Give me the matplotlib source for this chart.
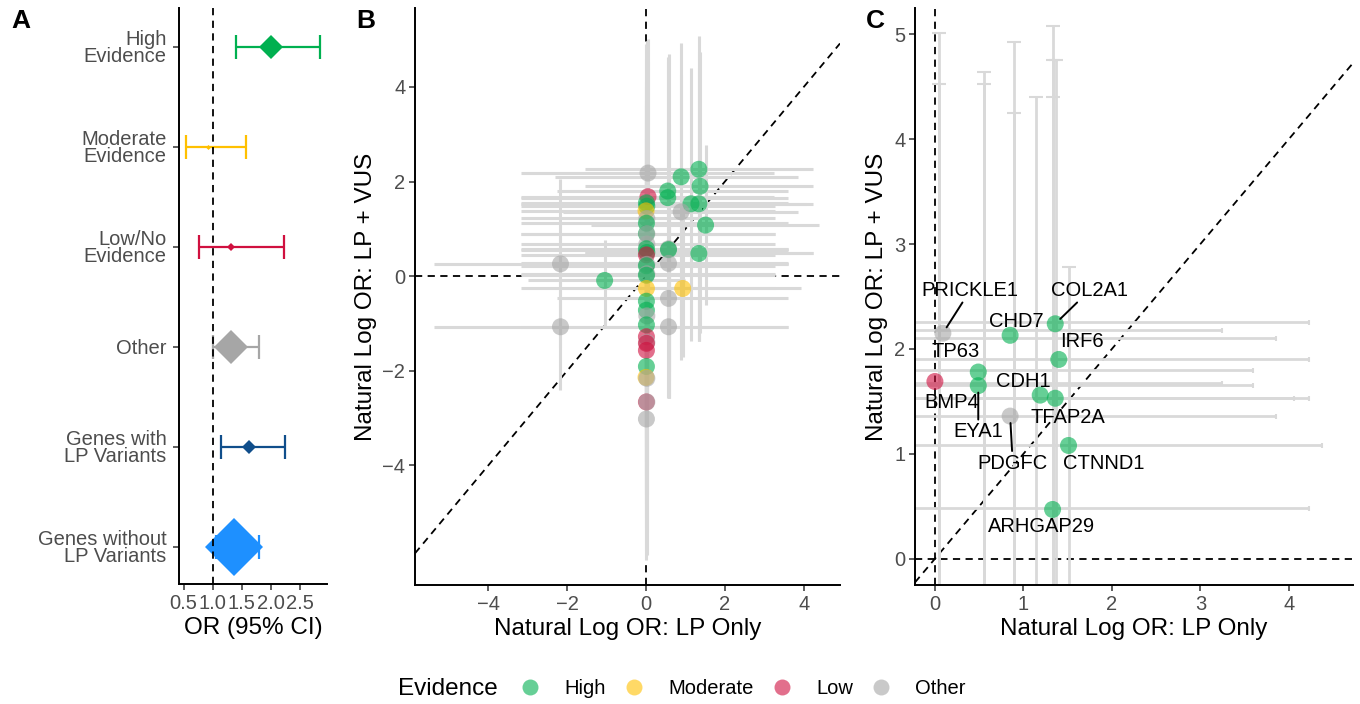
import numpy as np
import matplotlib
matplotlib.use("Agg")
import matplotlib.pyplot as plt
from matplotlib.lines import Line2D

plt.rcParams['font.family'] = ['Liberation Sans', 'DejaVu Sans']
plt.rcParams['axes.unicode_minus'] = True

nan = np.nan

# ---- panel A: odds ratios by group ----
a_labels = ["High\nEvidence", "Moderate\nEvidence", "Low/No\nEvidence", "Other",
            "Genes with\nLP Variants", "Genes without\nLP Variants"]
a_or = [2.00, 0.92, 1.32, 1.32, 1.63, 1.36]
a_lo = [1.40, 0.54, 0.76, 1.00, 1.15, 1.05]
a_hi = [2.85, 1.57, 2.23, 1.80, 2.25, 1.80]
a_weight = [24, 5, 9, 34, 14, 58]
a_colors = ["#00B050", "#FFC000", "#D0103F", "#A6A6A6", "#104E8B", "#1E90FF"]

# ---- labelled genes (panels B and C) ----
genes = ["PRICKLE1", "COL2A1", "CHD7", "IRF6", "TP63", "BMP4", "EYA1",
         "CDH1", "TFAP2A", "PDGFC", "CTNND1", "ARHGAP29"]
g_ev = ["Other", "High", "High", "High", "High", "Low", "High",
        "High", "High", "Other", "High", "High"]
g_lp = [0.05, 1.34, 0.89, 1.37, 0.55, 0.05, 0.55, 1.14, 1.34, 0.89, 1.51, 1.34]
g_vus = [2.18, 2.26, 2.10, 1.90, 1.80, 1.68, 1.66, 1.53, 1.53, 1.36, 1.08, 0.48]
g_lp_lo = [-3.16, -1.55, -2.30, -1.55, -2.25, -3.16, -3.16, -3.16, -1.55, -2.10, -1.40, -1.55]
g_lp_hi = [3.24, 4.23, 3.85, 4.23, 3.59, 3.24, 3.59, 4.06, 4.23, 3.85, 4.38, 4.23]
g_vus_lo = [-1.50, -1.37, -1.77, -1.20, -2.58, -1.60, -1.00, -1.37, -1.37, -1.50, -0.61, -1.37]
g_vus_hi = [5.01, 5.08, 4.93, 4.75, 4.64, 4.53, 4.53, 4.40, 4.40, 4.25, 2.78, 4.75]
# jittered positions of the points shown in panel C
c_x = [0.09, 1.36, 0.85, 1.40, 0.49, 0.00, 0.49, 1.19, 1.36, 0.85, 1.51, 1.33]
c_y = [2.15, 2.24, 2.13, 1.90, 1.78, 1.69, 1.65, 1.56, 1.53, 1.36, 1.08, 0.47]

# ---- other genes (panel B only) ----
o_lp = [0.57, 0.57, 0.57, -2.17, -1.05, 0.93, 0.57, 0.57, -2.17,
        0.01, 0.02, 0.00, 0.02, 0.01, 0.01, 0.02, 0.02, 0.01, 0.02,
        0.01, 0.02, 0.01, 0.02, 0.01, 0.01, 0.01, 0.01, 0.02, 0.01,
        0.01, 0.02, 0.01, 0.01, 0.01, 0.00, 0.02, 0.01, 0.02, 0.01]
o_vus = [0.58, 0.56, 0.27, 0.26, -0.09, -0.26, -0.47, -1.07, -1.07,
         1.55, 1.48, 1.38, 1.22, 1.12, 0.90, 0.90, 0.68, 0.58, 0.50,
         0.45, 0.25, 0.22, 0.05, 0.02, -0.26, -0.53, -0.72, -0.84, -1.03,
         -1.28, -1.40, -1.42, -1.57, -1.91, -2.14, -2.16, -2.66, -2.66, -3.02]
o_ev = ["Other", "High", "Other", "Other", "High", "Moderate", "Other", "Other", "Other",
        "High", "High", "Moderate", "Other", "High", "High", "Other", "Other", "High", "High",
        "Low", "Other", "High", "Other", "High", "Moderate", "High", "High", "Other", "High",
        "Low", "Other", "Low", "Low", "High", "Moderate", "Other", "Low", "Other", "Other"]
o_lp_lo = [-2.25, -3.16, -3.16, -5.37, -3.00, -1.30, -2.25, -3.16, -5.37,
           -3.16, -3.16, -3.16, -3.16, -3.16, -3.16, -3.16, -3.16, -3.16, -1.55,
           -3.16, -3.16, -3.16, -3.16, -3.16, -3.16, nan, nan, nan, nan,
           nan, nan, nan, nan, nan, nan, nan, nan, nan, nan]
o_lp_hi = [3.61, 3.61, 3.61, 3.61, 1.00, 3.93, 3.61, 3.61, 3.61,
           3.61, 3.27, 3.27, 3.27, 3.61, 3.27, 3.27, 3.27, 3.61, 4.24,
           3.27, 3.61, 3.27, 3.27, 3.27, 3.27, nan, nan, nan, nan,
           nan, nan, nan, nan, nan, nan, nan, nan, nan, nan]
o_vus_lo = [-2.58, -2.00, -2.20, -1.50, -1.07, -1.70, -2.58, -2.58, -2.40,
            -1.20, -1.50, -1.80, -2.00, -1.90, -2.20, -2.30, -2.50, -2.40, -2.60,
            -2.70, -2.90, -2.80, -3.00, -3.10, -3.40, -3.60, -3.90, -4.00, -4.20,
            -4.50, -4.60, -4.60, -4.80, -5.10, -5.30, -5.40, -5.80, -5.90, -6.00]
o_vus_hi = [4.69, 3.20, 2.90, 2.06, 0.77, 1.50, 1.60, 0.50, 0.80,
            4.90, 4.98, 4.60, 4.40, 4.10, 4.00, 4.10, 3.80, 3.60, 3.50,
            3.70, 3.40, 3.30, 3.20, 3.10, 2.90, 2.60, 2.40, 2.30, 2.10,
            1.90, 1.80, 1.70, 1.60, 1.30, 1.00, 1.00, 0.50, 0.50, 0.20]

ev_levels = ["High", "Moderate", "Low", "Other"]
ev_colors = {"High": "#00B050", "Moderate": "#FFC000", "Low": "#D0103F", "Other": "#A6A6A6"}

TICK_GREY = "#4D4D4D"
BAR_GREY = "#D9D9D9"
PT_SIZE = 150
TICK_FS = 14.5
TITLE_FS = 17.5


def style_axes(ax):
    for s in ["top", "right"]:
        ax.spines[s].set_visible(False)
    for s in ["left", "bottom"]:
        ax.spines[s].set_linewidth(1.4)
    ax.tick_params(labelsize=TICK_FS, labelcolor=TICK_GREY, length=4, width=1.1,
                   pad=3, color="#333333")


def dashed(ax, kind):
    opts = dict(color="black", lw=1.3, dashes=(4, 3), zorder=1)
    if kind == "h":
        ax.axhline(0, **opts)
    elif kind == "v":
        ax.axvline(0, **opts)
    else:
        ax.axline((0, 0), slope=1, **opts)


fig = plt.figure(figsize=(13.6, 7.04), dpi=100)
W, H = 1360.0, 704.0
axA = fig.add_axes([179 / W, 120 / H, 148 / W, 576 / H])
axB = fig.add_axes([415 / W, 119 / H, 425 / W, 577 / H])
axC = fig.add_axes([915 / W, 119 / H, 438 / W, 577 / H])

# ---- A ----
rows = np.arange(len(a_labels))[::-1] + 1
for i in range(len(a_labels)):
    axA.errorbar(a_or[i], rows[i],
                 xerr=[[a_or[i] - a_lo[i]], [a_hi[i] - a_or[i]]],
                 fmt="none", ecolor=a_colors[i],
                 elinewidth=1.6, capsize=8.6, capthick=1.6, zorder=2)
    axA.plot(a_or[i], rows[i], marker="D", ls="", color=a_colors[i],
             ms=a_weight[i] * 0.509, mew=0, zorder=3)
axA.axvline(1.0, color="black", lw=1.3, dashes=(4, 3), zorder=4)
axA.set_xlim(0.42, 2.97)
axA.set_ylim(0.63, 6.39)
axA.set_xticks([0.5, 1.0, 1.5, 2.0, 2.5])
axA.set_xticklabels(["0.5", "1.0", "1.5", "2.0", "2.5"])
axA.set_yticks(rows)
axA.set_yticklabels(a_labels, ha="right", multialignment="right", linespacing=0.9)
style_axes(axA)
axA.tick_params(axis="y", pad=5)
axA.set_xlabel("OR (95% CI)", fontsize=TITLE_FS, labelpad=3)

# ---- B ----
b_x = g_lp + o_lp
b_y = g_vus + o_vus
b_ev = g_ev + o_ev
for k in ["h", "v", "d"]:
    dashed(axB, k)
axB.hlines(b_y, g_lp_lo + o_lp_lo, g_lp_hi + o_lp_hi, color=BAR_GREY, lw=2.2, zorder=2)
axB.vlines(b_x, g_vus_lo + o_vus_lo, g_vus_hi + o_vus_hi, color=BAR_GREY, lw=2.2, zorder=2)
axB.scatter(b_x, b_y, s=PT_SIZE, c=[ev_colors[e] for e in b_ev], alpha=0.6,
            linewidths=0, zorder=3)
axB.set_xlim(-5.86, 4.92)
axB.set_ylim(-6.53, 5.67)
axB.set_xticks([-4, -2, 0, 2, 4])
axB.set_yticks([-4, -2, 0, 2, 4])
style_axes(axB)
axB.set_xlabel("Natural Log OR: LP Only", fontsize=TITLE_FS, labelpad=3)
axB.set_ylabel("Natural Log OR: LP + VUS", fontsize=TITLE_FS, labelpad=4)

# ---- C ----
g_x = np.array(g_lp)
g_yv = np.array(g_vus)
for k in ["h", "v", "d"]:
    dashed(axC, k)
axC.errorbar(g_x, g_yv, yerr=[g_yv - np.array(g_vus_lo), np.array(g_vus_hi) - g_yv],
             fmt="none", ecolor=BAR_GREY, elinewidth=2.0, capsize=4.7, capthick=1.5, zorder=2)
axC.errorbar(g_x, g_yv, xerr=[g_x - np.array(g_lp_lo), np.array(g_lp_hi) - g_x],
             fmt="none", ecolor=BAR_GREY, elinewidth=2.0, capsize=1.8, capthick=1.5, zorder=2)
axC.scatter(c_x, c_y, s=PT_SIZE, c=[ev_colors[e] for e in g_ev], alpha=0.6,
            linewidths=0, zorder=3)

# label placement (text position, draw segment?)
label_pos = {
    "PRICKLE1": (0.40, 2.56, True), "COL2A1": (1.75, 2.56, True),
    "CHD7": (0.92, 2.26, False), "IRF6": (1.66, 2.07, False),
    "TP63": (0.23, 1.98, False), "CDH1": (1.00, 1.69, False),
    "BMP4": (0.19, 1.49, False), "EYA1": (0.49, 1.21, True),
    "TFAP2A": (1.50, 1.35, False), "PDGFC": (0.88, 0.91, True),
    "CTNND1": (1.91, 0.91, False), "ARHGAP29": (1.20, 0.31, False),
}
for i, g in enumerate(genes):
    tx, ty, seg = label_pos[g]
    if seg:
        axC.annotate(g, xy=(c_x[i], c_y[i]), xytext=(tx, ty), ha="center", va="center",
                     fontsize=14.5, zorder=4,
                     arrowprops=dict(arrowstyle="-", color="black", lw=1.4,
                                     shrinkA=0, shrinkB=5))
    else:
        axC.text(tx, ty, g, ha="center", va="center", fontsize=14.5, zorder=4)

axC.set_xlim(-0.225, 4.725)
axC.set_ylim(-0.25, 5.25)
axC.set_xticks([0, 1, 2, 3, 4])
axC.set_yticks([0, 1, 2, 3, 4, 5])
style_axes(axC)
axC.set_xlabel("Natural Log OR: LP Only", fontsize=TITLE_FS, labelpad=3)
axC.set_ylabel("Natural Log OR: LP + VUS", fontsize=TITLE_FS, labelpad=4)

# panel letters
for lx, lab in [(21, "A"), (366, "B"), (875, "C")]:
    fig.text(lx / W, 1 - 21 / H, lab, fontsize=19, fontweight="bold",
             ha="center", va="center")

# legend
handles = [Line2D([], [], marker="o", ls="", color=ev_colors[e], alpha=0.6,
                  ms=11.5, mew=0) for e in ev_levels]
fig.legend(handles, ev_levels, ncol=4, loc="center", frameon=False,
           bbox_to_anchor=(740 / W, 1 - 689 / H), fontsize=14.5,
           handlelength=1.6, handletextpad=0.9, columnspacing=0.6)
fig.text(398 / W, 1 - 689 / H, "Evidence", fontsize=17.5, ha="left", va="center")

fig.savefig("out.png", dpi=100)
